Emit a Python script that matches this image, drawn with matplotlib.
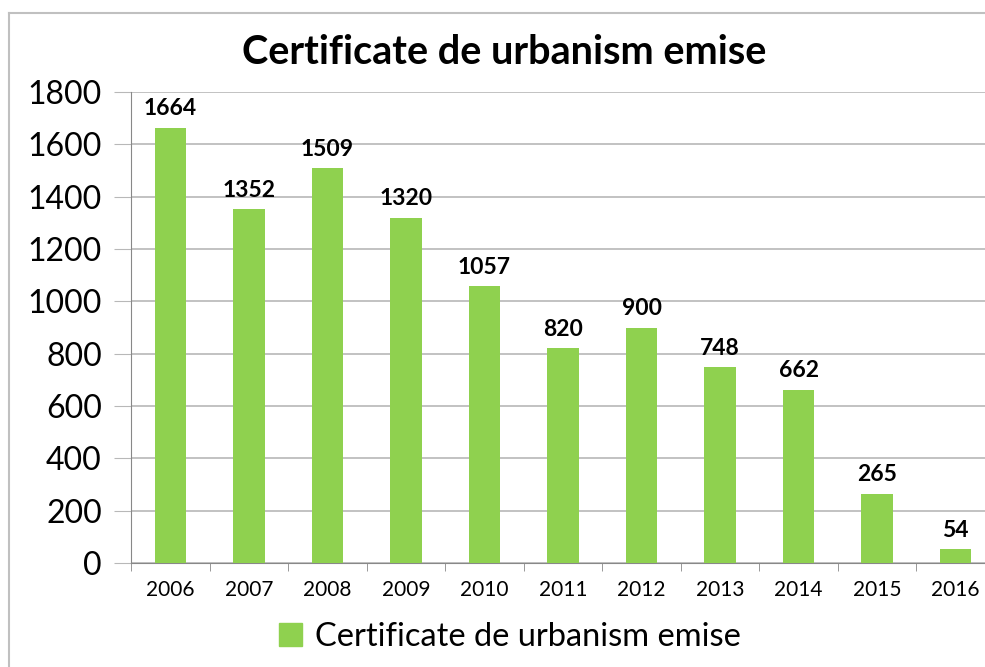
import matplotlib
matplotlib.use("Agg")
import matplotlib.pyplot as plt
from matplotlib.lines import Line2D
from matplotlib.patches import Patch

plt.rcParams['font.family'] = ['Lato', 'DejaVu Sans']

years = ["2006", "2007", "2008", "2009", "2010", "2011",
         "2012", "2013", "2014", "2015", "2016"]
counts = [1664, 1352, 1509, 1320, 1057, 820, 900, 748, 662, 265, 54]
series_name = "Certificate de urbanism emise"

green = "#8fd14f"
grid_gray = "#b8b8b8"

fig = plt.figure(figsize=(9.85, 6.67), dpi=100)

# chart frame, only top and left edges visible in the crop
fx, fy = 9/985, 1 - 13/667
fig.add_artist(Line2D([fx, 1.0], [fy, fy], transform=fig.transFigure,
                      color="#c0c0c0", lw=1.5))
fig.add_artist(Line2D([fx, fx], [0.0, fy], transform=fig.transFigure,
                      color="#c0c0c0", lw=1.5))

ax = fig.add_axes([131/985, 1 - 563/667, 864/985, 471/667])

x = range(len(years))
bars = ax.bar(x, counts, width=0.4, color=green, zorder=3)

for b, v in zip(bars, counts):
    ax.annotate(str(v), (b.get_x() + b.get_width() / 2, v),
                xytext=(0, 6), textcoords="offset points",
                ha="center", va="bottom", fontsize=16.5, fontweight="bold")

ax.set_xlim(-0.5, len(years) - 0.5)
ax.set_ylim(0, 1800)
ax.set_yticks(range(0, 1801, 200))
ax.yaxis.grid(True, color=grid_gray, lw=1.2, zorder=0)
ax.set_axisbelow(True)

ax.set_xticks(list(x))
ax.set_xticklabels(years, fontsize=15)
ax.set_xticks([i - 0.5 for i in range(len(years) + 1)], minor=True)
ax.tick_params(axis="x", which="major", length=0, pad=12)
ax.tick_params(axis="x", which="minor", length=6, color="#888888")
ax.tick_params(axis="y", labelsize=23, length=12, color=grid_gray, pad=9)

for s in ["top", "right"]:
    ax.spines[s].set_visible(False)
ax.spines["left"].set_color("#888888")
ax.spines["bottom"].set_color("#888888")

fig.text(504/985, 1 - 52/667, series_name, ha="center", va="center",
         fontsize=28.5, fontweight="bold")

fig.legend(handles=[Patch(color=green, label=series_name)],
           loc="center", bbox_to_anchor=(510/985, 1 - 637/667),
           frameon=False, fontsize=23.5, handlelength=0.7, handleheight=0.7,
           handletextpad=0.4)

fig.savefig("out.png", dpi=100)
